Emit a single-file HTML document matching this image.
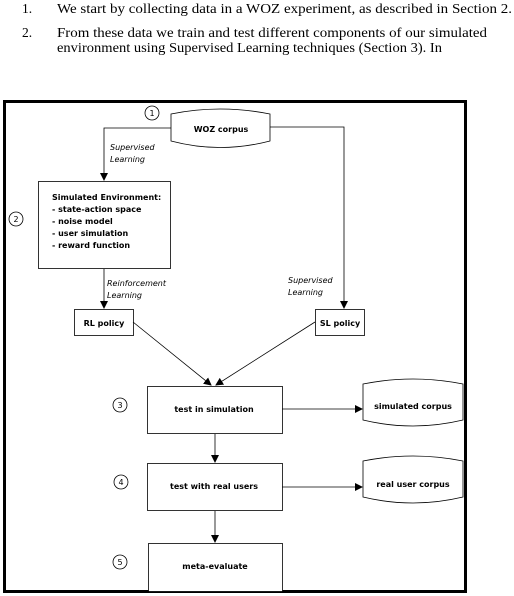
<!DOCTYPE html>
<html><head><meta charset="utf-8"><style>
html,body{margin:0;padding:0;background:#fff;}
svg{display:block;}
.s{font-family:"Liberation Serif",serif;font-size:13.5px;fill:#000;}
.d{font-family:"DejaVu Sans","Liberation Sans",sans-serif;font-size:8px;fill:#000;}
.b{font-weight:bold;}
.i{font-style:italic;}
</style></head><body>
<svg width="514" height="596" viewBox="0 0 514 596" xmlns="http://www.w3.org/2000/svg">
<defs><marker id="a" markerWidth="8" markerHeight="8" refX="7" refY="4" orient="auto" markerUnits="userSpaceOnUse"><path d="M0,0 L8,4 L0,8 z" fill="#000"/></marker></defs>
<text class="s" x="22" y="13">1.</text>
<text class="s" x="57" y="13" textLength="455" lengthAdjust="spacingAndGlyphs">We start by collecting data in a WOZ experiment, as described in Section 2.</text>
<text class="s" x="22" y="37">2.</text>
<text class="s" x="57" y="37" textLength="430" lengthAdjust="spacingAndGlyphs">From these data we train and test different components of our simulated</text>
<text class="s" x="57" y="52" textLength="385" lengthAdjust="spacingAndGlyphs">environment using Supervised Learning techniques (Section 3). In</text>

<rect x="4.5" y="101.5" width="461" height="490" fill="none" stroke="#000" stroke-width="3"/>

<g fill="#fff" stroke="#000" stroke-width="0.8">
<path d="M171,114 Q220,104 270,114 L270,141 Q220,154 171,141 Z"/>
<path d="M363,384 Q413,374 463,384 L463,420 Q413,432 363,420 Z"/>
<path d="M363,461 Q413,451 463,461 L463,497 Q413,509 363,497 Z"/>
<rect x="38.5" y="181.5" width="132" height="87"/>
<rect x="74.5" y="309.5" width="59" height="26"/>
<rect x="315.5" y="309.5" width="49" height="26"/>
<rect x="147.5" y="386.5" width="135" height="47"/>
<rect x="147.5" y="463.5" width="135" height="47"/>
<rect x="148.5" y="543.5" width="134" height="48"/>
<circle cx="152" cy="113" r="7"/>
<circle cx="16" cy="219" r="7"/>
<circle cx="120" cy="405" r="7"/>
<circle cx="121" cy="482" r="7"/>
<circle cx="120" cy="562" r="7"/>
</g>
<g fill="none" stroke="#000" stroke-width="0.8">
<polyline points="171,128 104,128 104,180" marker-end="url(#a)"/>
<polyline points="270,127 344,127 344,308" marker-end="url(#a)"/>
<line x1="104" y1="269" x2="104" y2="308" marker-end="url(#a)"/>
<line x1="133" y1="322" x2="211" y2="385" marker-end="url(#a)"/>
<line x1="315" y1="322" x2="216" y2="385" marker-end="url(#a)"/>
<line x1="282" y1="409" x2="362" y2="409" marker-end="url(#a)"/>
<line x1="215" y1="434" x2="215" y2="462" marker-end="url(#a)"/>
<line x1="282" y1="487" x2="362" y2="487" marker-end="url(#a)"/>
<line x1="215" y1="511" x2="215" y2="542" marker-end="url(#a)"/>
</g>
<g class="d" text-anchor="middle">
<text x="152" y="116">1</text><text x="16" y="222">2</text><text x="120" y="408">3</text><text x="121" y="485">4</text><text x="120" y="565">5</text>
<text class="b" x="221" y="132">WOZ corpus</text>
<text class="b" x="104" y="326">RL policy</text>
<text class="b" x="340" y="326">SL policy</text>
<text class="b" x="214" y="412">test in simulation</text>
<text class="b" x="214" y="489">test with real users</text>
<text class="b" x="215" y="569">meta-evaluate</text>
<text class="b" x="413" y="409">simulated corpus</text>
<text class="b" x="413" y="487">real user corpus</text>
</g>
<g class="d b">
<text x="52" y="200">Simulated Environment:</text>
<text x="52" y="212">- state-action space</text>
<text x="52" y="224">- noise model</text>
<text x="52" y="236">- user simulation</text>
<text x="52" y="248">- reward function</text>
</g>
<g class="d i">
<text x="110" y="150">Supervised</text><text x="110" y="162">Learning</text>
<text x="107" y="286">Reinforcement</text><text x="107" y="298">Learning</text>
<text x="288" y="283">Supervised</text><text x="288" y="295">Learning</text>
</g>
</svg>
</body></html>
